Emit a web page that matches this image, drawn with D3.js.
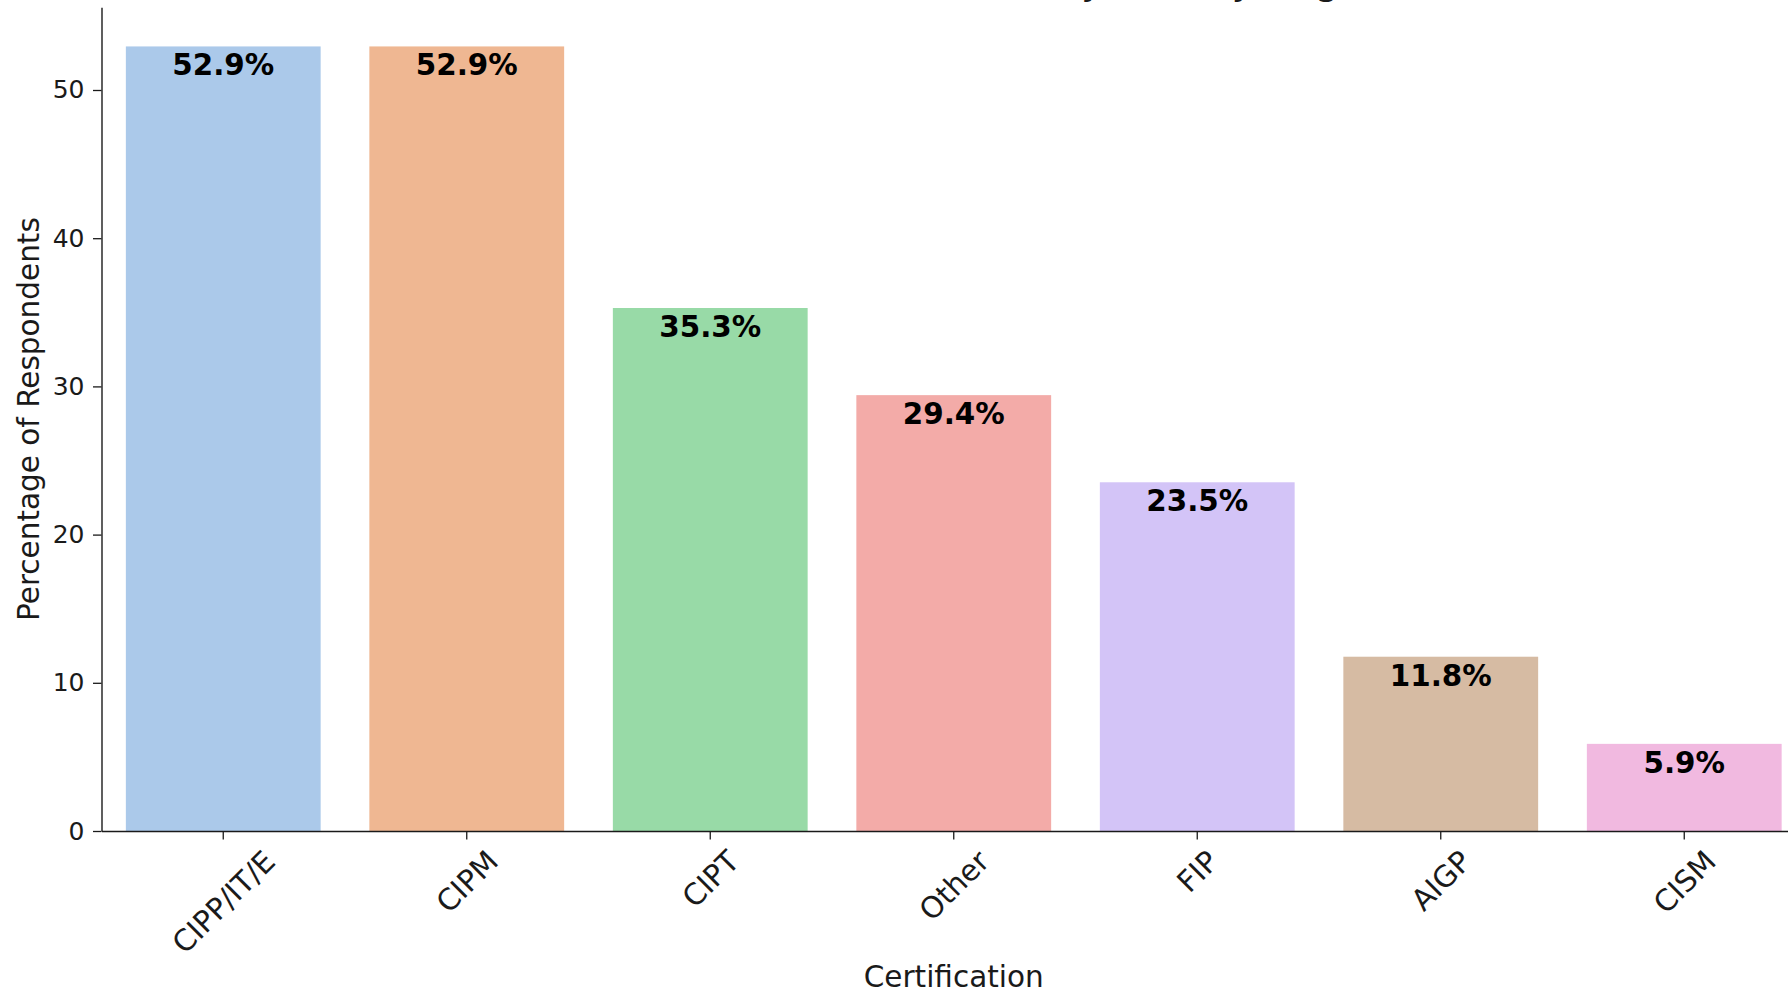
<!DOCTYPE html>
<html><head><meta charset="utf-8">
<script src="https://cdn.jsdelivr.net/npm/d3@7"></script>
<style>html,body{margin:0;padding:0;background:#fff;overflow:hidden}</style>
</head><body><svg id="c" width="1788" height="993"></svg>
<script>
// ---- data ----
const categories = ["CIPP/IT/E", "CIPM", "CIPT", "Other", "FIP", "AIGP", "CISM"];
const percentages = [52.94, 52.94, 35.29, 29.41, 23.53, 11.76, 5.88];
const yTickValues = [0, 10, 20, 30, 40, 50];
const palette = ["#a1c9f4", "#ffb482", "#8de5a1", "#ff9f9b", "#d0bbff", "#debb9b", "#fab0e4"];
const titleText = "Professional Certifications Held by Privacy Engineers";
const xLabelText = "Certification";
const yLabelText = "Percentage of Respondents";

// ---- layout ----
const W = 1788, H = 993;
const plot = {left: 101.5, right: 1806, top: 7.2, bottom: 831};
const FONT = "'DejaVu Sans', sans-serif";
const ink = "#1a1a1a";

const svg = d3.select("#c");
svg.append("rect").attr("width", W).attr("height", H).attr("fill", "#fff");

const x = d3.scaleBand().domain(categories).range([plot.left, plot.right])
  .paddingInner(0.2).paddingOuter(0.1);
const yMax = d3.max(percentages) * 1.05;
const y = d3.scaleLinear().domain([0, yMax]).range([plot.bottom, plot.top]);
const desat = c => { const h = d3.hsl(c); h.s *= 0.75; return h.formatHex(); };

// bars
svg.append("g").selectAll("rect").data(categories).join("rect")
  .attr("x", d => x(d)).attr("width", x.bandwidth())
  .attr("y", (d, i) => y(percentages[i]))
  .attr("height", (d, i) => y(0) - y(percentages[i]))
  .attr("fill", (d, i) => desat(palette[i % palette.length]));

// value labels
svg.append("g").selectAll("text").data(categories).join("text")
  .attr("x", d => x(d) + x.bandwidth() / 2)
  .attr("y", (d, i) => y(percentages[i]) + 29)
  .attr("text-anchor", "middle")
  .attr("font-family", FONT).attr("font-weight", "bold").attr("font-size", 29.4)
  .attr("fill", "#000")
  .text((d, i) => percentages[i].toFixed(1) + "%");

// y axis
const tickLen = 8.5, tickPad = 8.5;
const yAxis = svg.append("g").attr("transform", `translate(${plot.left},0)`)
  .call(d3.axisLeft(y).tickValues(yTickValues).tickSize(tickLen).tickSizeOuter(0).tickPadding(tickPad).tickFormat(d3.format("d")));
yAxis.selectAll("text").attr("font-family", FONT).attr("font-size", 25).attr("fill", ink);
yAxis.selectAll("line").attr("stroke", ink).attr("stroke-width", 1.3);
yAxis.select(".domain").attr("stroke", ink).attr("stroke-width", 1.4);

// x axis
const xAxis = svg.append("g").attr("transform", `translate(0,${plot.bottom})`)
  .call(d3.axisBottom(x).tickSize(tickLen).tickSizeOuter(0).tickFormat(""));
xAxis.selectAll("line").attr("stroke", ink).attr("stroke-width", 1.3);
xAxis.select(".domain").attr("stroke", ink).attr("stroke-width", 1.4);

// rotated x tick labels (bbox centred under tick, top below tick+pad)
const labelTop = plot.bottom + tickLen + tickPad;
const fsTick = 29.5;
const xl = svg.append("g");
categories.forEach(c => {
  const t = xl.append("text")
    .attr("font-family", FONT).attr("font-size", fsTick).attr("fill", ink)
    .attr("text-anchor", "middle").attr("dy", "0.365em").text(c);
  const w = t.node().getComputedTextLength();
  const half = (w + 0.73 * fsTick) * Math.SQRT1_2 / 2;
  t.attr("transform", `translate(${x(c) + x.bandwidth() / 2},${labelTop + half}) rotate(-45)`);
});

// axis titles
svg.append("text").attr("x", (plot.left + plot.right) / 2).attr("y", 987)
  .attr("text-anchor", "middle").attr("font-family", FONT).attr("font-size", 29.5)
  .attr("fill", ink).text(xLabelText);
svg.append("text").attr("transform", `translate(38.5,${(plot.top + plot.bottom) / 2}) rotate(-90)`)
  .attr("text-anchor", "middle").attr("font-family", FONT).attr("font-size", 29.5)
  .attr("fill", ink).text(yLabelText);

// title (mostly above the visible area, as in the reference)
svg.append("text").attr("x", (plot.left + plot.right) / 2).attr("y", -6.5)
  .attr("text-anchor", "middle").attr("font-family", FONT).attr("font-size", 38.2)
  .attr("fill", ink).text(titleText);
</script></body></html>
